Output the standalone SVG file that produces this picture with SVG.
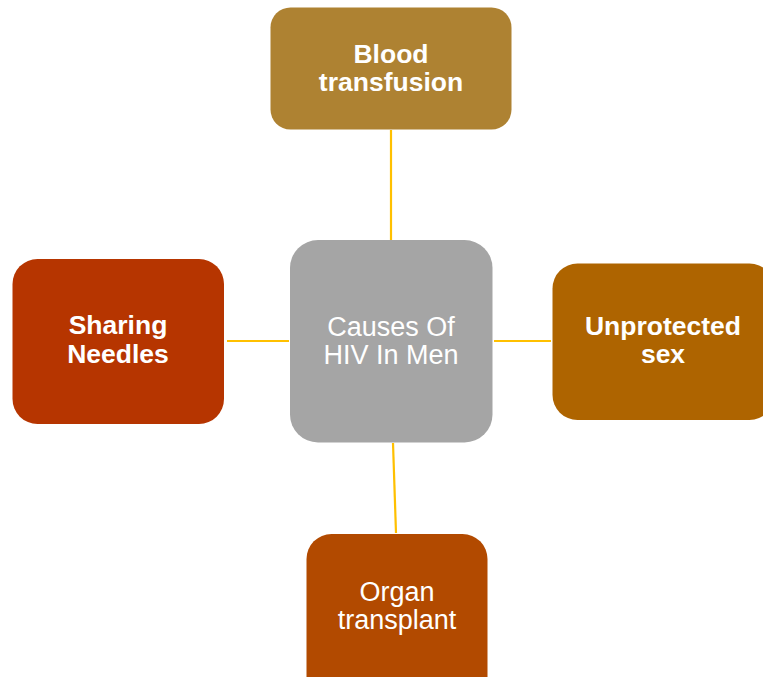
<svg xmlns="http://www.w3.org/2000/svg" width="763" height="677" viewBox="0 0 763 677">
<style>
.c{stroke:#FFC000;stroke-width:2.2;fill:none}
.t{font-family:"Liberation Sans",Arial,sans-serif;font-size:27px;fill:#fff;text-anchor:middle}
.b{font-weight:bold;font-size:26.5px}
</style>
<rect width="763" height="677" fill="#fff"/>
<g id="connectors">
<line class="c" x1="391" y1="130" x2="391" y2="240"/>
<line class="c" x1="393" y1="443" x2="396" y2="533"/>
<line class="c" x1="227" y1="341" x2="289" y2="341"/>
<line class="c" x1="494" y1="341" x2="551" y2="341"/>
</g>
<g id="blood">
<rect x="270.5" y="7.5" width="241" height="122" rx="20" fill="#AE8232"/>
<text class="t b" x="391" y="63">Blood</text>
<text class="t b" x="391" y="91">transfusion</text>
</g>
<g id="center">
<rect x="290" y="240" width="202.5" height="202.5" rx="28" fill="#A5A5A5"/>
<text class="t" x="391" y="336">Causes Of</text>
<text class="t" x="391" y="364">HIV In Men</text>
</g>
<g id="sex">
<rect x="552.5" y="263.5" width="222" height="156.5" rx="25" fill="#AE6400"/>
<text class="t b" x="663" y="335">Unprotected</text>
<text class="t b" x="663" y="363">sex</text>
</g>
<g id="organ">
<rect x="306.5" y="534" width="181" height="170" rx="25" fill="#B24A00"/>
<text class="t" x="397" y="601">Organ</text>
<text class="t" x="397" y="629">transplant</text>
</g>
<g id="needles">
<rect x="12.5" y="259" width="211.5" height="165" rx="25" fill="#B63500"/>
<text class="t b" x="118" y="334">Sharing</text>
<text class="t b" x="118" y="363">Needles</text>
</g>
</svg>
